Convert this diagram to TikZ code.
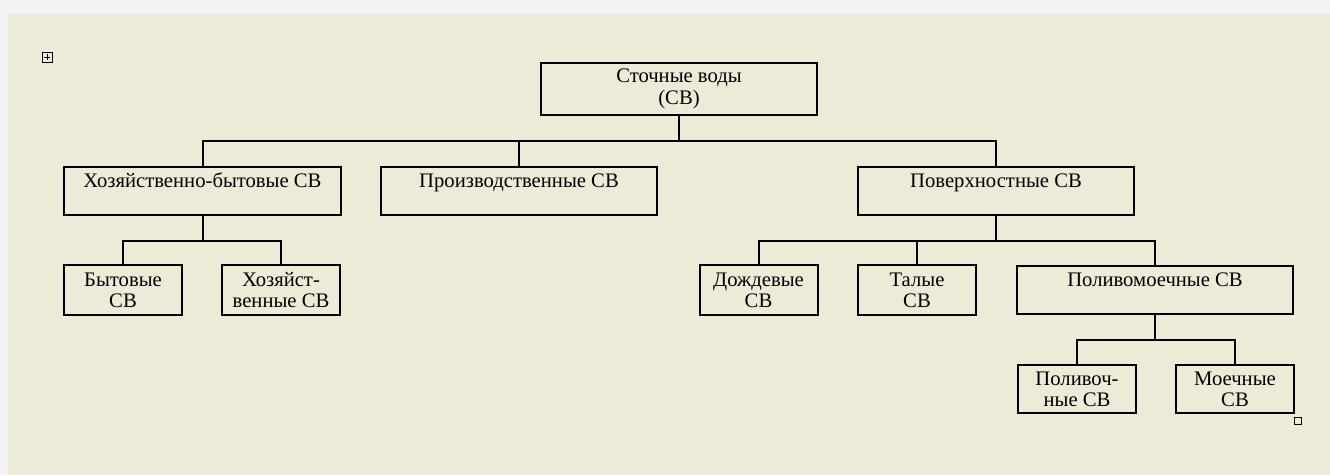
\documentclass[tikz,border=0pt]{standalone}
\usepackage{fontspec}
\setmainfont{Liberation Serif}
\usetikzlibrary{calc}
\definecolor{pagebg}{RGB}{237,234,216}
\definecolor{pagerim}{RGB}{243,243,244}

\begin{document}
\begin{tikzpicture}[x=0.75pt, y=-0.75pt, line width=1.5pt,
    every node/.style={draw, rectangle, inner sep=0pt, align=center, font=\fontsize{15.5}{16}\selectfont},
    wide/.style={minimum width=207.5pt, minimum height=36.5pt},
    narrow/.style={minimum width=88.5pt, minimum height=37pt}]

    % Page
    \fill[pagerim] (0,0) rectangle (1330,475);
    \fill[pagebg] (8,14) rectangle (1330,475);
    \useasboundingbox (0,0) rectangle (1330,475);
    \draw[line width=0.6pt] (42,52) rectangle (52,62);
    \draw[line width=0.5pt] (44,57) -- (50,57) (47,54) -- (47,60);
    \draw[line width=0.6pt] (1294,417) rectangle (1301,424);

    \node [wide, minimum height=39pt] (root) at (679,89) {Сточные воды\\(СВ)};

    \node [wide] (hb) at (202.5,191) {Хозяйственно-бытовые СВ\\~};
    \node [wide] (pr) at (519,191) {Производственные СВ\\~};
    \node [wide] (pov) at (996,191) {Поверхностные СВ\\~};

    \node [narrow] (byt) at (123,290) {Бытовые\\СВ};
    \node [narrow] (hoz) at (281,290) {Хозяйст-\\венные СВ};
    \node [narrow] (dozh) at (758.5,290) {Дождевые\\СВ};
    \node [narrow] (tal) at (917,290) {Талые\\СВ};
    \node [wide] (pm) at (1155,290) {Поливомоечные СВ\\~};

    \node [narrow, minimum height=36pt] (pol) at (1077,389) {Поливоч-\\ные СВ};
    \node [narrow, minimum height=36pt] (moe) at (1235,389) {Моечные\\СВ};

    % Root
    \draw (root.south) -- ++(0,25) coordinate (r1);
    \draw (hb.north) |- (r1) -| (pov.north);
    \draw (pr.north) -- (pr.north |- r1);
    % Household
    \draw (hb.south) -- ++(0,25) coordinate (r2);
    \draw (byt.north) |- (r2) -| (hoz.north);
    % Surface
    \draw (pov.south) -- ++(0,25) coordinate (r3);
    \draw (dozh.north) |- (r3) -| (pm.north);
    \draw (tal.north) -- (tal.north |- r3);
    % Washing
    \draw (pm.south) -- ++(0,25) coordinate (r4);
    \draw (pol.north) |- (r4) -| (moe.north);

\end{tikzpicture}
\end{document}
